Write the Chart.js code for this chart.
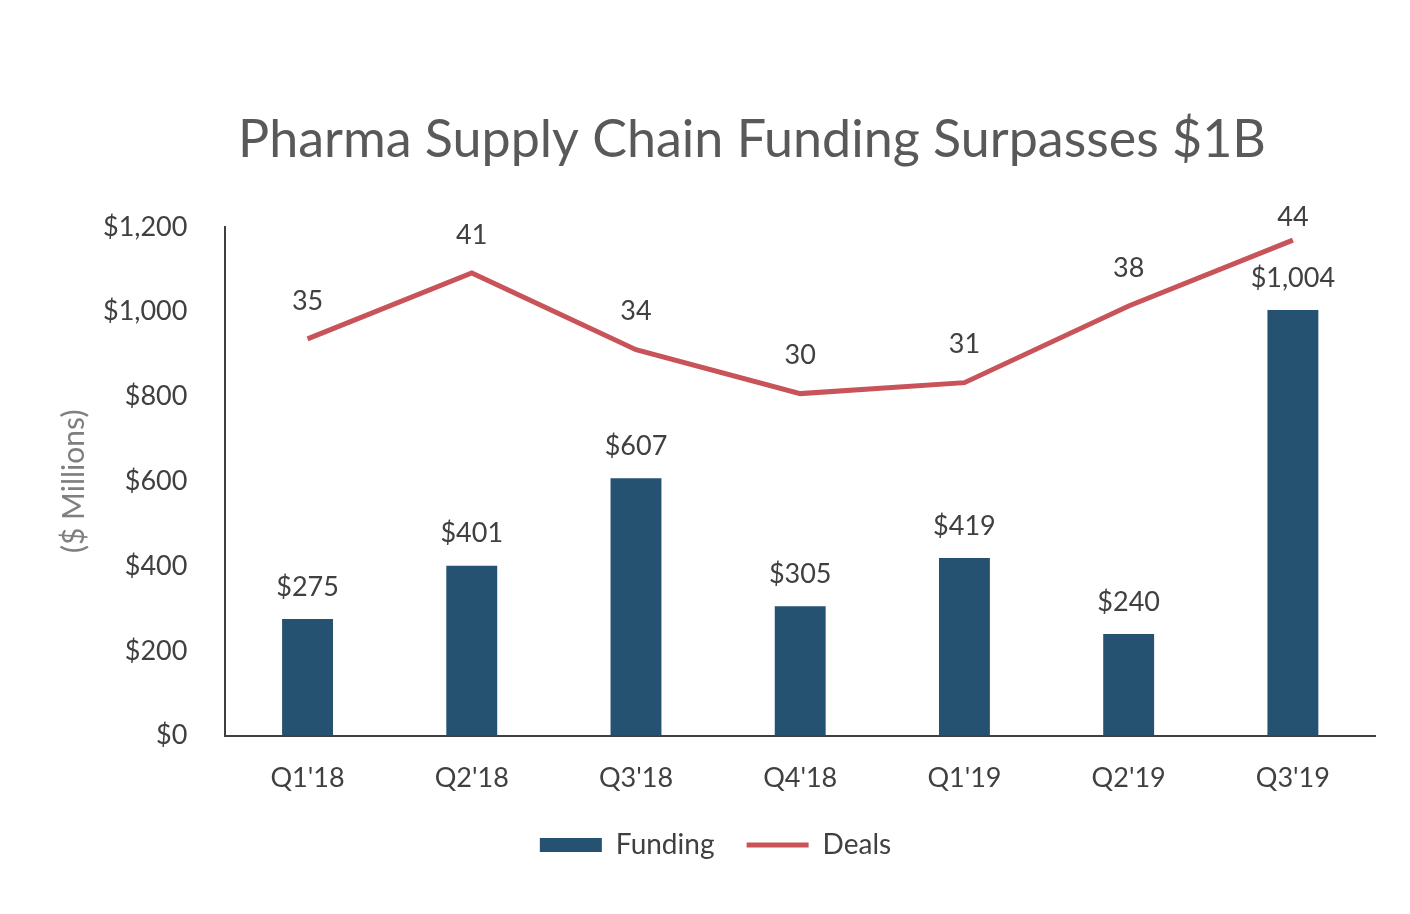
<!DOCTYPE html>
<html lang="en">
<head>
  <meta charset="UTF-8">
  <title>Pharma Supply Chain Funding</title>
  <style>
    html, body { margin: 0; padding: 0; background: #fff; }
    .wrap { width: 1410px; height: 914px; }
  </style>
</head>
<body>
  <div class="wrap"><canvas id="chart" width="1410" height="914"></canvas></div>
  <script src="https://cdn.jsdelivr.net/npm/chart.js"></script>
  <script>
    const quarters = ["Q1'18", "Q2'18", "Q3'18", "Q4'18", "Q1'19", "Q2'19", "Q3'19"];
    const funding = [275, 401, 607, 305, 419, 240, 1004];
    const deals = [35, 41, 34, 30, 31, 38, 44];
    const fundingTicks = [0, 200, 400, 600, 800, 1000, 1200];
    const titleText = 'Pharma Supply Chain Funding Surpasses $1B';

    const FONT = 'Lato, "Open Sans", sans-serif';
    const TXT = '#404040';
    const BAR = '#255270';
    const LINE = '#c8545a';

    // title sits a bit right of the canvas centre in the original, so draw it by hand
    const titlePlugin = {
      id: 'offsetTitle',
      afterDraw(chart) {
        const c = chart.ctx;
        c.save();
        c.font = '52px ' + FONT;
        c.fillStyle = '#595959';
        c.textAlign = 'center';
        c.textBaseline = 'middle';
        c.fillText(titleText, 752, 140);
        c.restore();
      }
    };

    const labelPlugin = {
      id: 'valueLabels',
      afterDatasetsDraw(chart) {
        const c = chart.ctx;
        c.save();
        c.font = '27px ' + FONT;
        c.fillStyle = TXT;
        c.textAlign = 'center';
        c.textBaseline = 'middle';
        chart.getDatasetMeta(0).data.forEach((bar, i) => {
          c.fillText('$' + funding[i].toLocaleString('en-US'), bar.x, bar.y - 32);
        });
        chart.getDatasetMeta(1).data.forEach((pt, i) => {
          const y = Math.max(pt.y - 38, chart.chartArea.top - 10);
          c.fillText(String(deals[i]), pt.x, y);
        });
        c.restore();
      }
    };

    new Chart(document.getElementById('chart'), {
      data: {
        labels: quarters,
        datasets: [
          {
            type: 'bar',
            label: 'Funding',
            data: funding,
            backgroundColor: BAR,
            barPercentage: 0.31,
            categoryPercentage: 1,
            yAxisID: 'y',
            order: 2
          },
          {
            type: 'line',
            label: 'Deals',
            data: deals,
            borderColor: LINE,
            backgroundColor: LINE,
            borderWidth: 5,
            pointRadius: 0,
            tension: 0,
            yAxisID: 'y1',
            order: 1
          }
        ]
      },
      options: {
        responsive: false,
        animation: false,
        layout: { padding: { top: 227, left: 56, right: 35, bottom: 45 } },
        plugins: {
          title: { display: false },
          tooltip: { enabled: false },
          legend: {
            position: 'bottom',
            labels: {
              usePointStyle: true,
              pointStyleWidth: 62,
              boxHeight: 14,
              padding: 11,
              color: TXT,
              font: { family: FONT, size: 28 },
              sort: (a, b) => a.datasetIndex - b.datasetIndex,
              generateLabels(chart) {
                const items = Chart.defaults.plugins.legend.labels.generateLabels(chart);
                items.forEach(it => {
                  if (it.datasetIndex === 0) {
                    it.text = it.text + '\u2002 ';
                    it.pointStyle = 'rect';
                    it.fillStyle = BAR;
                    it.strokeStyle = BAR;
                    it.lineWidth = 0;
                  } else {
                    it.pointStyle = 'line';
                    it.strokeStyle = LINE;
                    it.lineWidth = 5;
                  }
                });
                return items;
              }
            }
          }
        },
        scales: {
          x: {
            grid: { display: false, drawTicks: false },
            border: { display: true, color: '#404040', width: 2 },
            ticks: { color: TXT, padding: 26, font: { family: FONT, size: 27 } }
          },
          y: {
            min: 0,
            max: 1200,
            afterBuildTicks(axis) { axis.ticks = fundingTicks.map(v => ({ value: v })); },
            grid: { display: false, drawTicks: false },
            border: { display: true, color: '#404040', width: 2 },
            ticks: {
              color: TXT,
              padding: 38,
              font: { family: FONT, size: 27 },
              callback: v => '$' + v.toLocaleString('en-US')
            },
            title: {
              display: true,
              text: '($ Millions)',
              color: '#7f7f7f',
              font: { family: FONT, size: 30 },
              padding: { top: 0, bottom: -27 }
            }
          },
          y1: {
            display: false,
            min: -1.2,
            max: 45.2
          }
        }
      },
      plugins: [titlePlugin, labelPlugin]
    });
  </script>
</body>
</html>
